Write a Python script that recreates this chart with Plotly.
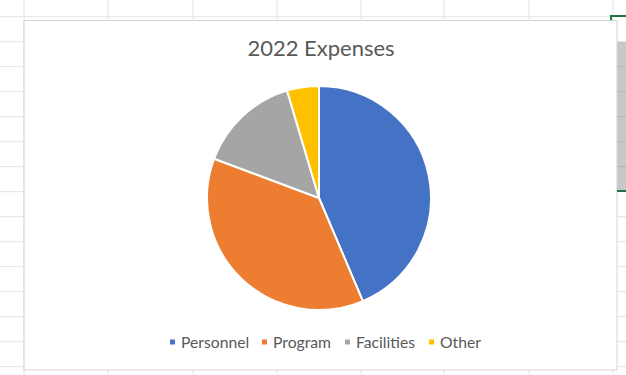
import plotly.graph_objects as go

categories = ["Personnel", "Program", "Facilities", "Other"]
values = [43.6, 37.1, 14.7, 4.6]
colors = ["#4472C4", "#ED7D31", "#A5A5A5", "#FFC000"]
title_text = "2022 Expenses"

W, H = 626, 375


def px(x):
    return x / W


def py(y):
    return 1 - y / H


shapes = []
annotations = []
grid_color = "#E3E3E3"
# spreadsheet gridlines (background)
for gx in [24, 108, 193, 277, 361, 444, 529, 613]:
    shapes.append(dict(type="line", xref="paper", yref="paper", x0=px(gx), x1=px(gx),
                       y0=py(0), y1=py(H), line=dict(color=grid_color, width=1), layer="below"))
for k in range(16):
    gy = 16.7 + 25 * k
    shapes.append(dict(type="line", xref="paper", yref="paper", x0=px(0), x1=px(W),
                       y0=py(gy), y1=py(gy), line=dict(color=grid_color, width=1), layer="below"))
# gray selected column block at right edge
shapes.append(dict(type="rect", xref="paper", yref="paper", x0=px(617), x1=px(626),
                   y0=py(191), y1=py(41.7), fillcolor="#C8C8C8", line=dict(width=0), layer="below"))
for gy in [66.7, 91.7, 116.7, 141.7, 166.7]:
    shapes.append(dict(type="line", xref="paper", yref="paper", x0=px(617), x1=px(626),
                       y0=py(gy), y1=py(gy), line=dict(color="#B4B4B4", width=1), layer="below"))
# chart area box
shapes.append(dict(type="rect", xref="paper", yref="paper", x0=px(24), x1=px(617),
                   y0=py(370), y1=py(20.5), fillcolor="white",
                   line=dict(color="#D4D4D4", width=1), layer="below"))
# green selection marks
shapes.append(dict(type="path", xref="paper", yref="paper",
                   path=f"M {px(611)} {py(20)} L {px(611)} {py(16)} L {px(626)} {py(16)}",
                   line=dict(color="#217346", width=2), layer="below"))
shapes.append(dict(type="line", xref="paper", yref="paper", x0=px(617), x1=px(626),
                   y0=py(191), y1=py(191), line=dict(color="#217346", width=2), layer="below"))

# legend (Excel style: small squares + labels)
legend_marker_x = [170, 262, 345, 429]
legend_y = 342
for name, col, mx in zip(categories, colors, legend_marker_x):
    shapes.append(dict(type="rect", xref="paper", yref="paper",
                       x0=px(mx), x1=px(mx + 5), y0=py(legend_y + 2.5), y1=py(legend_y - 2.5),
                       fillcolor=col, line=dict(width=0)))
    annotations.append(dict(text=name, xref="paper", yref="paper", x=px(mx + 9), y=py(legend_y),
                            xanchor="left", yanchor="middle", showarrow=False,
                            font=dict(size=15.7, color="#595959", family="Lato, sans-serif")))

fig = go.Figure(go.Pie(
    labels=categories,
    values=values,
    sort=False,
    direction="clockwise",
    rotation=0,
    textinfo="none",
    hoverinfo="label+percent",
    marker=dict(colors=colors, line=dict(color="white", width=2)),
    domain=dict(x=[px(207), px(431)], y=[py(310), py(86)]),
))

fig.update_layout(
    width=W, height=H,
    margin=dict(l=0, r=0, t=0, b=0),
    paper_bgcolor="white",
    plot_bgcolor="white",
    font=dict(family="Lato, 'Open Sans', sans-serif", color="#595959"),
    title=dict(text=title_text, x=px(321), xanchor="center", y=py(48), yanchor="middle",
               font=dict(size=22, color="#595959", family="Lato, sans-serif")),
    showlegend=False,
    shapes=shapes,
    annotations=annotations,
)

fig.write_html("out.html", config={"displayModeBar": False},
               post_script="document.body.style.margin='0';document.body.style.overflow='hidden';")
